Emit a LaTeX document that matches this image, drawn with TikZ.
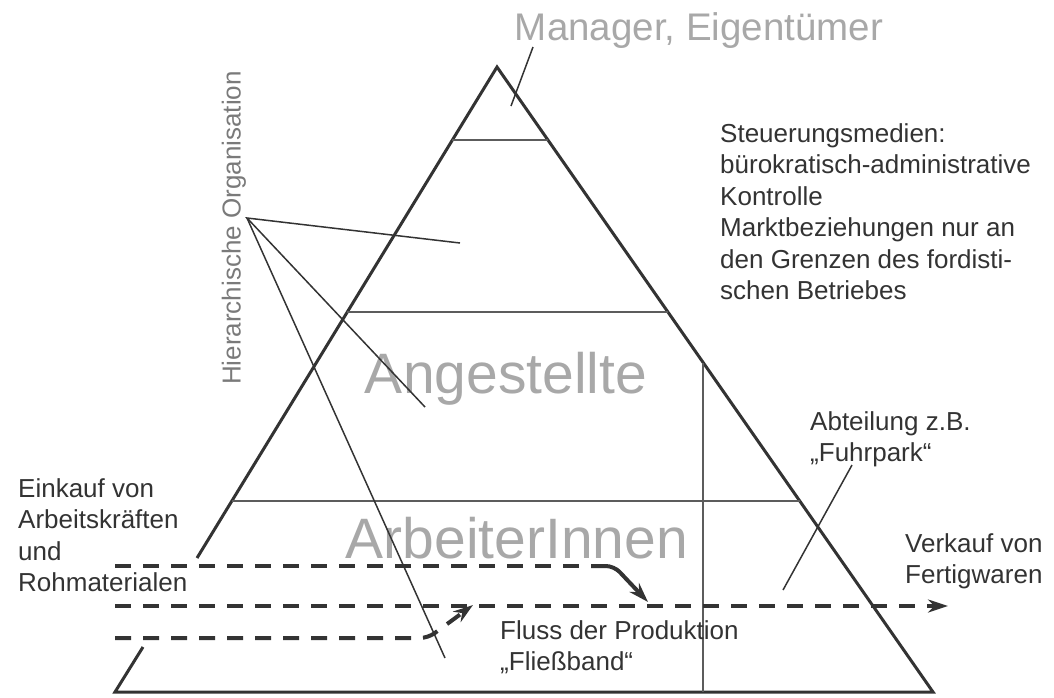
\documentclass[tikz,border=0pt]{standalone}
\usepackage{fontspec}
\setmainfont{Liberation Sans}
\usetikzlibrary{arrows.meta}
\definecolor{ink}{HTML}{333333}
\definecolor{pale}{HTML}{A8A8A8}
\definecolor{mid}{HTML}{7A7A7A}
\begin{document}
\begin{tikzpicture}[x=1pt,y=-1pt,
    lbl/.style={inner sep=0pt,anchor=north west,align=left,text=ink,font=\fontsize{26}{31.5}\selectfont},
    big/.style={inner sep=0pt,anchor=base,text=pale,font=\fontsize{57}{60}\selectfont},
    lead/.style={ink,line width=1.5pt},
    flow/.style={ink,line width=4pt,dash pattern=on 16pt off 12pt,rounded corners=8pt},
    tip/.style={-{Stealth[length=20pt,width=13pt]}}]
    \useasboundingbox (0,0) rectangle (1054,697);
    % pyramid
    \draw[ink,line width=3pt] (197,558) -- (497,67) -- (933,692) -- (115,692) -- (143,647);
    \draw[ink!80,line width=2pt] (452,140) -- (548,140);
    \draw[ink!80,line width=2pt] (347,312) -- (668,312);
    \draw[ink!80,line width=2pt] (232,501) -- (800,501);
    \draw[ink!80,line width=2pt] (703,363) -- (703,692);
    % levels
    \node[big,font=\fontsize{38.5}{40}\selectfont] (mgr) at (699,40) {Manager, Eigentümer};
    \node[big] (ang) at (506,393) {Angestellte};
    \node[big] (arb) at (517,558) {ArbeiterInnen};
    \coordinate (mgrpt) at (533,47);
    \coordinate (topbox) at (511,106);
    \draw[lead] (mgrpt) -- (topbox);
    % hierarchy
    \node[rotate=90,inner sep=0pt,text=mid,font=\fontsize{26}{30}\selectfont] (hier) at (234,228) {Hierarchische Organisation};
    \coordinate (hierpt) at (247,218);
    \coordinate (h1) at (460,243);
    \coordinate (h2) at (425,407);
    \coordinate (h3) at (445,658);
    \draw[lead] (h1) -- (hierpt) -- (h2);
    \draw[lead] (hierpt) -- (h3);
    % texts
    \node[lbl] (steuer) at (720,123) {Steuerungsmedien:\\bürokratisch-administrative\\Kontrolle\\Marktbeziehungen nur an\\den Grenzen des fordisti-\\schen Betriebes};
    \node[lbl] (einkauf) at (18,478) {Einkauf von\\Arbeitskräften\\und\\Rohmaterialen};
    \node[lbl] (abteil) at (810,411) {Abteilung z.B.\\„Fuhrpark“};
    \node[lbl] (verkauf) at (905,533) {Verkauf von\\Fertigwaren};
    \node[lbl] (fluss) at (500,620) {Fluss der Produktion\\„Fließband“};
    \coordinate (fuhrpt) at (852,465);
    \coordinate (abtbox) at (783,590);
    \draw[lead] (fuhrpt) -- (abtbox);
    % production flow
    \coordinate (in1) at (115,566);
    \coordinate (in2) at (115,606);
    \coordinate (in3) at (115,638);
    \coordinate (out) at (948,606);
    \coordinate (bend1) at (591,566);
    \draw[flow] (in1) -- (bend1);
    \draw[flow,tip,solid] (bend1) -- (614,566) -- (648,602);
    \draw[flow,tip] (in2) -- (out);
    \draw[flow,tip] (in3) -- (428,638) -- (473,605);
\end{tikzpicture}
\end{document}
